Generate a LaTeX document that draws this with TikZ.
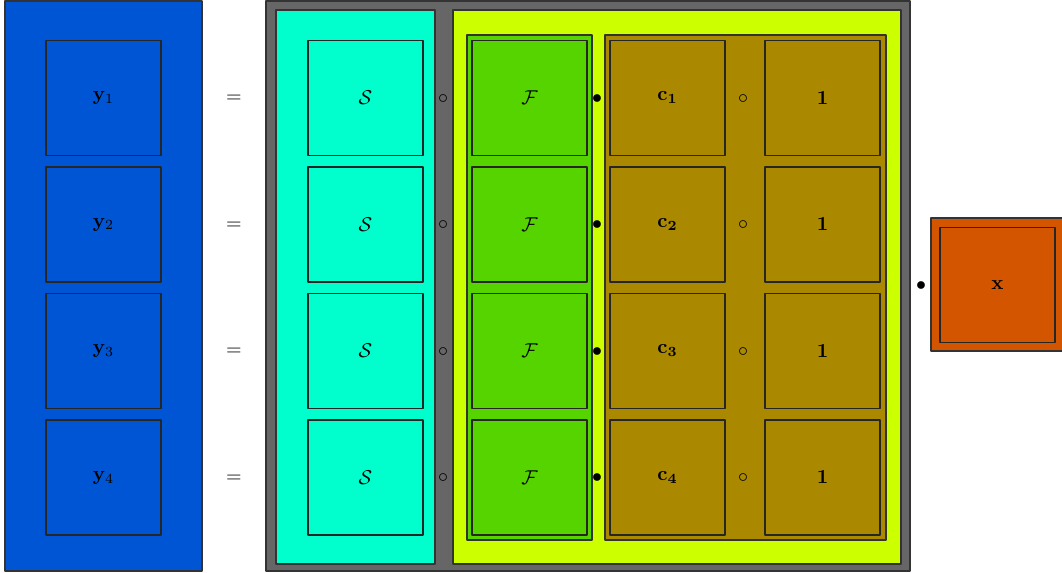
\documentclass[tikz,border=0pt]{standalone}
\usepackage{amsmath}
\usepackage{amssymb}
\usepackage{tikz}
\definecolor{yblue}{HTML}{0055D4}
\definecolor{panelgray}{HTML}{666666}
\definecolor{scyan}{HTML}{00FFCC}
\definecolor{lime}{HTML}{CCFF00}
\definecolor{fgreen}{HTML}{55D400}
\definecolor{cbrown}{HTML}{AA8800}
\definecolor{xorange}{HTML}{D45500}
\tikzset{
  every picture/.style={line join=round},
  panel/.style={draw=black!80, line width=0.7pt},  % coloured blocks
  cell/.style={draw=black!85, line width=0.7pt, minimum size=57.5pt, inner sep=0pt},
  op/.style={inner sep=0pt},
}

\begin{document}
\begin{tikzpicture}[x=0.5pt,y=-0.5pt]
    \useasboundingbox (0,0) rectangle (1062,573);
    % Left block
    \draw[panel, fill=yblue] (5,1) rectangle (202,571);
    % Right hand side
    \draw[panel, fill=panelgray] (266,1) rectangle (910,571);
    \draw[panel, fill=scyan] (276,10) rectangle (435,564);
    \draw[panel, fill=lime] (453,10) rectangle (901,564);
    \draw[panel, fill=fgreen] (467,35) rectangle (592,540);
    \draw[panel, fill=cbrown] (605,35) rectangle (886,540);
    % Vector x
    \draw[panel, fill=xorange] (931,218) rectangle (1064,351);
    \node[cell] (x) at (997.5,285) {$\mathbf{x}$};
    \node[op] (dotx) at (921,286) {$\bullet$};
    % Rows
    \foreach \i in {1,...,4} {
        \pgfmathsetmacro{\yy}{98+126.5*(\i-1)}
        \node[cell] (y\i) at (103.5,\yy) {$\mathbf{y}_\i$};
        \node[op] (eq\i) at (234,\yy+1) {$=$};
        \node[cell] (s\i) at (365.5,\yy) {$\mathcal{S}$};
        \node[op] (sc\i) at (443,\yy+1) {$\circ$};
        \node[cell] (f\i) at (529.5,\yy) {$\mathcal{F}$};
        \node[op] (fd\i) at (597,\yy+1) {$\bullet$};
        \node[cell] (c\i) at (667.5,\yy) {$\mathbf{c_\i}$};
        \node[op] (cc\i) at (743,\yy+1) {$\circ$};
        \node[cell] (one\i) at (822.5,\yy) {$\mathbf{1}$};
    }
\end{tikzpicture}
\end{document}
